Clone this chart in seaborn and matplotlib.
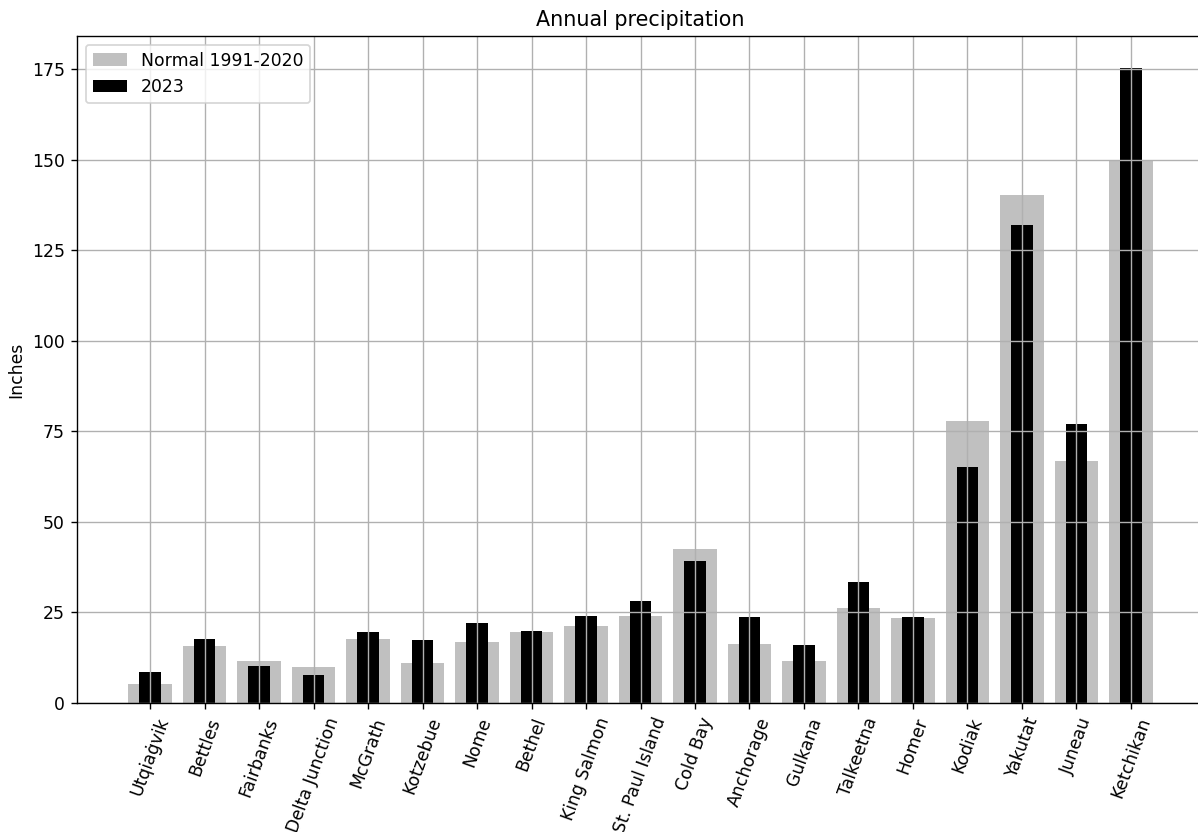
import pandas as pd
import seaborn as sns
import matplotlib.pyplot as plt

# station list, west/north to south-east
stations = ['Utqiaġvik', 'Bettles', 'Fairbanks', 'Delta Junction', 'McGrath',
            'Kotzebue', 'Nome', 'Bethel', 'King Salmon', 'St. Paul Island',
            'Cold Bay', 'Anchorage', 'Gulkana', 'Talkeetna', 'Homer',
            'Kodiak', 'Yakutat', 'Juneau', 'Ketchikan']
normal = [5.2, 15.7, 11.5, 9.9, 17.8, 11.1, 16.9, 19.6, 21.2, 23.9,
          42.5, 16.2, 11.5, 26.2, 23.5, 77.9, 140.2, 66.8, 149.6]
precip_2023 = [8.6, 17.6, 10.3, 7.7, 19.6, 17.3, 22.2, 19.8, 24.1, 28.3,
               39.2, 23.8, 15.9, 33.4, 23.7, 65.2, 131.9, 77.0, 175.4]

df = pd.DataFrame({'station': stations, 'normal': normal, 'y2023': precip_2023})

DPI = 124
fig = plt.figure(figsize=(1198 / DPI, 832 / DPI), dpi=DPI)
ax = fig.add_axes([77 / 1198, 129 / 832, 1127 / 1198, 667 / 832])

sns.barplot(data=df, x='station', y='normal', color='silver', width=0.8,
            saturation=1, label='Normal 1991-2020', ax=ax)
sns.barplot(data=df, x='station', y='y2023', color='black', width=0.4,
            saturation=1, label='2023', ax=ax)

ax.set_xlim(-1.34, 19.34)
ax.set_axisbelow('line')
ax.grid(True)
ax.set_title('Annual precipitation')
ax.set_ylabel('Inches')
ax.set_xlabel('')
ax.tick_params(axis='x', labelrotation=70)
ax.legend(loc='upper left')

fig.savefig('out.png', dpi=DPI)
